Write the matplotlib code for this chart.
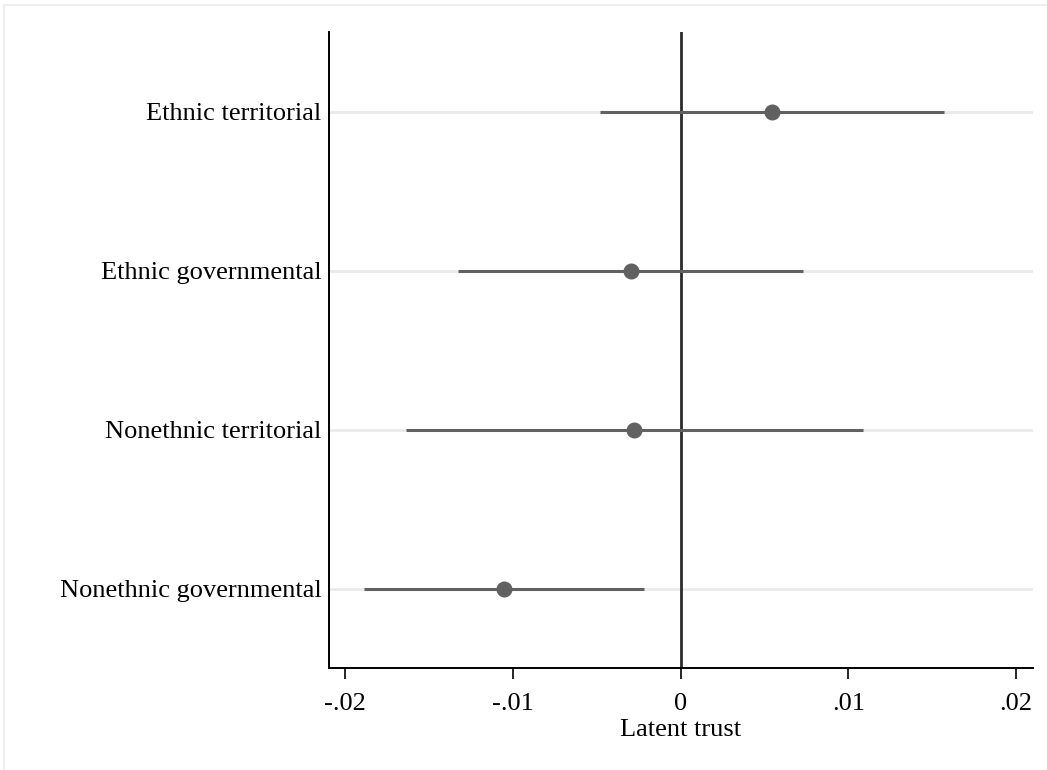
import matplotlib.pyplot as plt
from matplotlib.patches import Rectangle

labels = ['Ethnic territorial', 'Ethnic governmental',
          'Nonethnic territorial', 'Nonethnic governmental']
est = [0.00543, -0.00297, -0.00279, -0.01053]
ci_lo = [-0.00481, -0.01327, -0.01639, -0.01888]
ci_hi = [0.01571, 0.00731, 0.01085, -0.00217]

xticks = [-0.02, -0.01, 0, 0.01, 0.02]
xtick_labels = ['-.02', '-.01', '0', '.01', '.02']

plt.rcParams['font.family'] = ['Liberation Serif', 'DejaVu Serif']

fig = plt.figure(figsize=(10.47, 7.7), dpi=100)
fig.patches.append(Rectangle((4 / 1047, -0.1), 2, 765 / 770 + 0.1,
                             transform=fig.transFigure, fill=False,
                             edgecolor='#eeeeee', linewidth=1.5))
ax = fig.add_axes([328.5 / 1047, 102 / 770, (1033 - 328.5) / 1047, 636 / 770])

ypos = list(range(len(labels), 0, -1))
for y in ypos:
    ax.axhline(y, color='#eaeaea', linewidth=2, zorder=0)
ax.axvline(0, color='#2b2b2b', linewidth=2, zorder=1)

ax.hlines(ypos, ci_lo, ci_hi, color='#616161', linewidth=2.2, zorder=2)
ax.plot(est, ypos, 'o', color='#616161', markersize=10.5, zorder=3)

ax.set_xlim(-0.02101, 0.02102)
ax.set_ylim(0.5, 4.5)
ax.set_yticks(ypos)
ax.set_yticklabels(labels, fontsize=19)
ax.tick_params(axis='y', length=0, pad=5)
ax.set_xticks(xticks)
ax.set_xticklabels(xtick_labels, fontsize=19)
ax.tick_params(axis='x', length=8, width=1.2, pad=10)
ax.set_xlabel('Latent trust', fontsize=19, labelpad=3)

for s in ['top', 'right']:
    ax.spines[s].set_visible(False)
for s in ['left', 'bottom']:
    ax.spines[s].set_linewidth(1.4)

fig.savefig('out.png', dpi=100)
